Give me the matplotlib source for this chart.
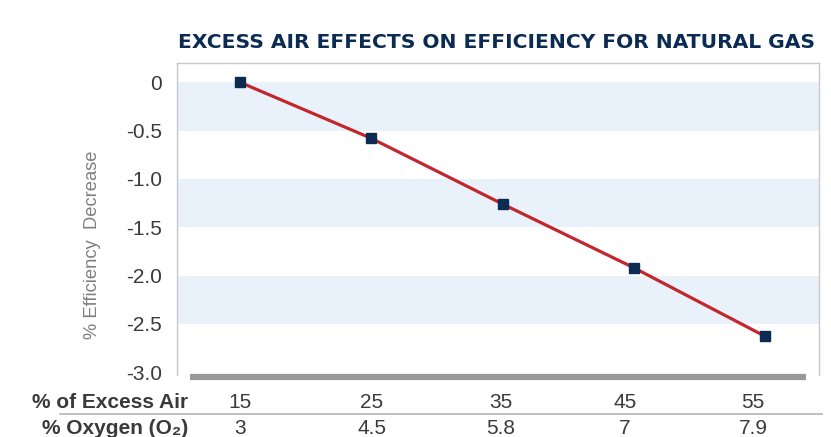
import numpy as np
import matplotlib.pyplot as plt

plt.rcParams['font.family'] = ['Liberation Sans', 'DejaVu Sans']

excess_air = ['15', '25', '35', '45', '55']
oxygen = ['3', '4.5', '5.8', '7', '7.9']
efficiency_decrease = [0.0, -0.58, -1.26, -1.92, -2.63]
y_ticks = [0, -0.5, -1.0, -1.5, -2.0, -2.5, -3.0]
y_tick_labels = ['0', '-0.5', '-1.0', '-1.5', '-2.0', '-2.5', '-3.0']

navy = '#0b2b52'
red = '#c1272d'
band = '#e9f2fa'
text_grey = '#3a3a3a'

W, H = 831, 437
fig = plt.figure(figsize=(W / 100, H / 100), dpi=100)
# axes box in pixels: left 177, right 819, top 63, bottom 375
ax = fig.add_axes([177 / W, 1 - 375 / H, (819 - 177) / W, (375 - 63) / H])

x = np.arange(len(excess_air))
ax.set_xlim(-0.48, 4.41)
ax.set_ylim(-3.03, 0.2)

# alternating shaded bands
for top, bottom in [(0, -0.5), (-1.0, -1.5), (-2.0, -2.5)]:
    ax.axhspan(bottom, top, color=band, lw=0, zorder=0)

ax.plot(x, efficiency_decrease, color=red, lw=2.3, zorder=2)
ax.plot(x, efficiency_decrease, ls='none', marker='s', ms=6.5,
        color=navy, zorder=3)

ax.set_yticks(y_ticks)
ax.set_yticklabels(y_tick_labels, fontsize=15, color=text_grey)
ax.tick_params(axis='y', length=0, pad=11)
ax.set_xticks([])

for side in ['left', 'top', 'right']:
    ax.spines[side].set_color('#c8c8c8')
    ax.spines[side].set_linewidth(1)
ax.spines['bottom'].set_visible(False)

# thick grey baseline
ax.plot([0.02, 0.98], [-0.005, -0.005], transform=ax.transAxes,
        color='#999999', lw=4.5, clip_on=False, solid_capstyle='butt')

ax.set_ylabel('% Efficiency  Decrease', fontsize=13.2, color='#7f7f7f')
ax.yaxis.set_label_coords(-0.118, 0.417)

fig.text(497 / W, 1 - 42 / H, 'EXCESS AIR EFFECTS ON EFFICIENCY FOR NATURAL GAS',
         ha='center', va='center', fontsize=14.6, fontweight='bold', color=navy,
         family='DejaVu Sans')

# table rows under the chart
row_y = [402, 428]
fig.text(188 / W, 1 - row_y[0] / H, '% of Excess Air', ha='right', va='center',
         fontsize=15, fontweight='bold', color=text_grey)
fig.text(188 / W, 1 - row_y[1] / H, '% Oxygen (O\u2082)', ha='right', va='center',
         fontsize=15, fontweight='bold', color=text_grey)
label_x = [240, 372, 501, 625, 753]
for lx, a, o in zip(label_x, excess_air, oxygen):
    fig.text(lx / W, 1 - row_y[0] / H, a, ha='center', va='center',
             fontsize=15, color=text_grey)
    fig.text(lx / W, 1 - row_y[1] / H, o, ha='center', va='center',
             fontsize=15, color=text_grey)
fig.add_artist(plt.Line2D([60 / W, 822 / W], [1 - 414 / H, 1 - 414 / H],
                          color='#b5b5b5', lw=1.2))

fig.savefig('out.png', dpi=100)
